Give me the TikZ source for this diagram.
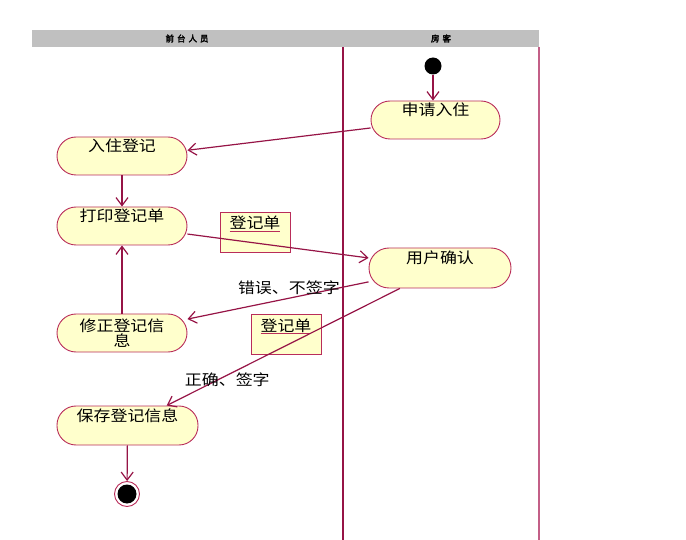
\documentclass[tikz,border=0pt]{standalone}
\usepackage{fontspec}
\usepackage{xcolor}
\usepackage{tikz}
\usetikzlibrary{arrows.meta}
\newfontfamily\cjk[FakeStretch=1.13]{Noto Sans CJK SC}
\newfontfamily\cjkhead[FakeBold=3,LetterSpace=35]{Noto Sans CJK SC}
\definecolor{lanered}{RGB}{150,20,70}
\definecolor{laneedge}{RGB}{195,95,135}
\definecolor{nodered}{RGB}{185,45,90}
\definecolor{actfill}{RGB}{255,255,204}
\definecolor{headgray}{RGB}{192,192,192}

\begin{document}
\begin{tikzpicture}[x=1pt,y=-1pt,
    activity/.style={draw=nodered, fill=actfill, line width=0.9pt, rounded corners=19pt,
        minimum width=130pt, minimum height=38pt, inner sep=4pt,
        text height=11pt, text depth=19pt, font=\cjk\fontsize{15}{15}\selectfont},
    notebox/.style={draw=nodered, fill=actfill, line width=0.9pt, minimum width=70pt,
        minimum height=40pt, inner sep=3pt, text height=14pt, text depth=20pt,
        font=\cjk\fontsize{15}{15}\selectfont},
    flow/.style={draw=lanered, line width=1.2pt, -{Straight Barb[length=8pt,width=12pt]}},
    guard/.style={font=\cjk\fontsize{15}{15}\selectfont, inner sep=3.3pt},
    lanehead/.style={font=\cjkhead\fontsize{8.5}{8.5}\selectfont},
    startdot/.style={circle, fill=black, minimum size=17pt, inner sep=0pt},
    endring/.style={circle, draw=nodered, fill=white, line width=0.9pt, minimum size=25pt, inner sep=0pt},
    enddot/.style={circle, fill=black, minimum size=19pt, inner sep=0pt}
]
    \useasboundingbox (0,0) rectangle (686,540);

    % swimlanes
    \fill[headgray] (32,30) rectangle (539,47);
    \node[lanehead] (lanefront) at (187,38.5) {前台人员};
    \node[lanehead] (laneguest) at (441,38.5) {房客};
    \draw[lanered, line width=1.2pt] (343,47) -- (343,540);
    \draw[laneedge, line width=1.2pt] (539,47) -- (539,540);

    % activities
    \node[startdot] (start) at (433,66) {};
    \node[activity, minimum width=129pt] (shenqing) at (435.5,120) {申请入住};
    \node[activity] (ruzhu) at (122,156) {入住登记};
    \node[activity] (dayin) at (122,226) {打印登记单};
    \node[activity, minimum width=142pt, minimum height=40pt, rounded corners=20pt] (queren) at (440,268) {用户确认};
    \node[activity, align=center, text height=, text depth=, inner sep=2pt] (xiuzheng) at (122,333) {修正登记信\\息};
    \node[activity, minimum width=141pt, minimum height=39pt] (baocun) at (127.5,425.5) {保存登记信息};
    \node[endring] (stop) at (127,494) {};
    \node[enddot] (stopdot) at (stop) {};

    % objects
    \node[notebox] (dan1) at (255,232) {{\color{nodered}\underline{\textcolor{black}{登记单}}}};
    \node[notebox] (dan2) at (286,334) {{\color{nodered}\underline{\textcolor{black}{登记单}}}};

    % transitions
    \draw[flow] (start) -- (start |- shenqing.north);
    \draw[flow] (shenqing.187) -- (ruzhu.5);
    \draw[flow] (ruzhu) -- (dayin);
    \draw[flow] (dayin.-7) -- (queren.172);
    \draw[flow] (queren.191) -- node[guard, pos=0.44, above] (lblwrong) {错误、不签字} (xiuzheng.12);
    \draw[flow] (xiuzheng) -- (dayin);
    \draw[flow] (queren.207) -- node[guard, pos=0.74, yshift=-5pt] (lblright) {正确、签字} (baocun.27);
    \draw[flow] (baocun) -- (stop);
\end{tikzpicture}
\end{document}
